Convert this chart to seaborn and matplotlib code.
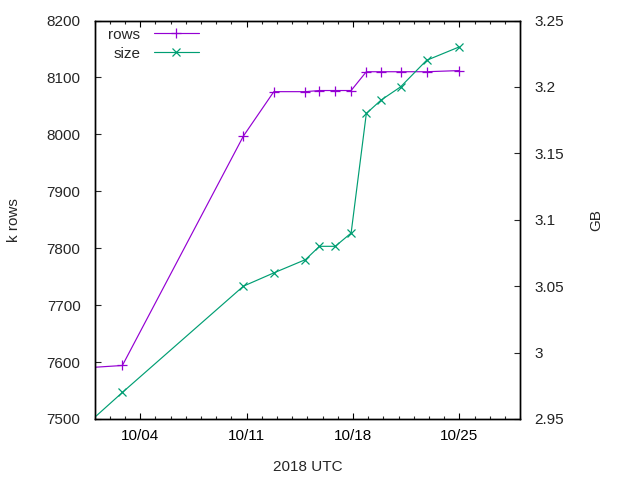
import matplotlib
matplotlib.use("Agg")
import matplotlib.pyplot as plt
import matplotlib.dates as mdates
import seaborn as sns
import pandas as pd

# ---- data ----
timestamps = [
    "2018-09-30 12:00", "2018-10-02 20:00", "2018-10-10 19:00", "2018-10-12 19:00",
    "2018-10-14 21:00", "2018-10-15 19:00", "2018-10-16 20:00", "2018-10-17 21:00",
    "2018-10-18 21:00", "2018-10-19 20:00", "2018-10-21 03:00", "2018-10-22 20:00",
    "2018-10-24 23:00",
]
rows_k = [7590, 7594, 7997, 8075, 8075, 8077, 8077, 8077, 8110, 8110, 8110, 8110, 8112]
size_gb = [2.946, 2.970, 3.050, 3.060, 3.070, 3.080, 3.080, 3.090, 3.180, 3.190, 3.200, 3.220, 3.230]
x_ticks = ["2018-10-04", "2018-10-11", "2018-10-18", "2018-10-25"]
x_limits = ("2018-10-01", "2018-10-29")
y_limits = (7500, 8200)
y2_limits = (2.95, 3.25)
y2_ticks = [2.95, 3.0, 3.05, 3.1, 3.15, 3.2, 3.25]
y2_labels = ["2.95", "3", "3.05", "3.1", "3.15", "3.2", "3.25"]

df = pd.DataFrame({"time": pd.to_datetime(timestamps), "rows": rows_k, "size": size_gb})

sns.set_style("white")
plt.rcParams["font.family"] = ["Liberation Sans", "DejaVu Sans"]
FS = 11
plt.rcParams["font.size"] = FS

purple = "#9400D3"
green = "#009E73"

fig = plt.figure(figsize=(6.4, 4.8), dpi=100)
ax = fig.add_axes([94.5 / 640, 1 - 419 / 480, (520.3 - 94.5) / 640, (419 - 20.5) / 480])
ax2 = ax.twinx()

sns.lineplot(data=df, x="time", y="rows", ax=ax, color=purple, marker="+",
             markersize=7, markeredgewidth=0.9, markeredgecolor=purple,
             linewidth=0.85, label="rows", legend=False)
sns.lineplot(data=df, x="time", y="size", ax=ax2, color=green, marker="x",
             markersize=5.5, markeredgewidth=0.9, markeredgecolor=green,
             linewidth=0.85, label="size", legend=False)

ax.set_xlim(pd.Timestamp(x_limits[0]), pd.Timestamp(x_limits[1]))
ax.set_ylim(*y_limits)
ax2.set_ylim(*y2_limits)

ax.set_xticks(pd.to_datetime(x_ticks))
ax.xaxis.set_major_formatter(mdates.DateFormatter("%m/%d"))
ax.xaxis.set_minor_locator(mdates.DayLocator(interval=1))
ax.set_yticks(range(7500, 8201, 100))
ax2.set_yticks(y2_ticks)
ax2.set_yticklabels(y2_labels)

for a in (ax, ax2):
    for s in a.spines.values():
        s.set_visible(True)
        s.set_color("black")
        s.set_linewidth(1.0)

ax.tick_params(axis="x", which="major", direction="in", length=4.5, width=0.8,
               top=True, bottom=True, pad=7, labelsize=FS, colors="black")
ax.tick_params(axis="x", which="minor", direction="in", length=2.5, width=0.8,
               top=True, bottom=True)
ax.tick_params(axis="y", which="major", direction="in", length=4.5, width=0.8,
               left=True, right=False, pad=10, labelsize=FS)
ax2.tick_params(axis="y", which="major", direction="in", length=4.5, width=0.8,
                left=False, right=True, pad=10, labelsize=FS)
for lab in ax2.get_yticklabels():
    lab.set_color("#222222")

ax.set_xlabel("2018 UTC", fontsize=FS)
ax.set_ylabel("k rows", fontsize=FS)
ax2.set_ylabel("GB", fontsize=FS)
ax.xaxis.set_label_coords(0.5, -0.102)
ax.yaxis.set_label_coords(-0.172, 0.5)
ax2.yaxis.set_label_coords(1.163, 0.5)

h1, l1 = ax.get_legend_handles_labels()
h2, l2 = ax2.get_legend_handles_labels()
leg = ax2.legend(h1 + h2, l1 + l2, loc="upper left", bbox_to_anchor=(0.032, 0.982),
                 frameon=False, markerfirst=False, handlelength=2.95, handletextpad=0.9,
                 labelspacing=0.33, borderpad=0, borderaxespad=0, fontsize=FS, numpoints=1)
try:
    for col in leg._legend_handle_box.get_children():
        col.align = "right"
except Exception:
    pass

ax.grid(False)
ax2.grid(False)
fig.savefig("out.png", dpi=100)
